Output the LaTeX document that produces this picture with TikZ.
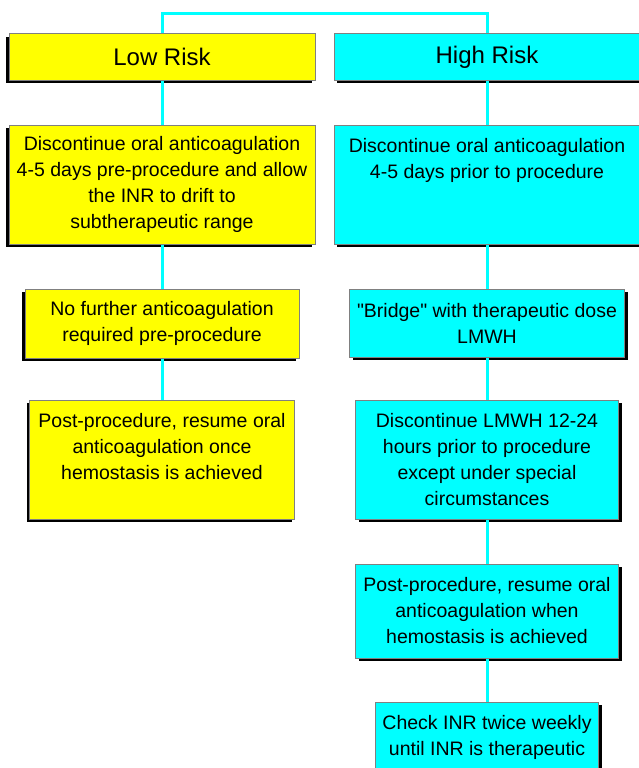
\documentclass[tikz,border=0pt]{standalone}
\usepackage{fontspec}
\setmainfont{Liberation Sans}
\usepackage{tikz}
\usetikzlibrary{positioning,shadows}
\usepackage{xcolor}
\definecolor{riskyellow}{RGB}{255,255,0}
\definecolor{riskcyan}{RGB}{0,255,255}

\begin{document}
\begin{tikzpicture}[x=1pt, y=-1pt, node distance=44pt,
  box/.style={rectangle, draw=gray, line width=1pt, align=center,
    font=\fontsize{19.5}{26}\selectfont},
  lowbox/.style={box, fill=riskyellow,
    drop shadow={shadow xshift=-3pt, shadow yshift=-3pt, fill=black, opacity=1}},
  highbox/.style={box, fill=riskcyan,
    drop shadow={shadow xshift=3pt, shadow yshift=-3pt, fill=black, opacity=1}},
  head/.style={font=\fontsize{24}{28}\selectfont, minimum width=306pt, minimum height=46pt},
  link/.style={draw=riskcyan, line width=3pt}]
  \useasboundingbox (0,0) rectangle (639,768);

  % risk headers
  \node (low) [lowbox, head] at (162,57) {Low Risk};
  \node (high) [highbox, head] at (487,57) {High Risk};

  % low risk column
  \node (lowstop) [lowbox, minimum width=306pt, minimum height=119pt, below=of low]
    {Discontinue oral anticoagulation\\4-5 days pre-procedure and allow\\the INR to drift to\\subtherapeutic range};
  \node (lownone) [lowbox, minimum width=274pt, minimum height=69pt, below=44pt of lowstop]
    {No further anticoagulation\\required pre-procedure};
  \node (lowpost) [lowbox, minimum width=265pt, minimum height=119pt, below=41pt of lownone]
    {Post-procedure, resume oral\\anticoagulation once\\hemostasis is achieved\\~};

  % high risk column
  \node (highstop) [highbox, minimum width=306pt, minimum height=119pt, below=of high]
    {Discontinue oral anticoagulation\\4-5 days prior to procedure\\~\\~};
  \node (bridge) [highbox, minimum width=275pt, minimum height=68pt, below=44pt of highstop]
    {\textquotedbl Bridge\textquotedbl{} with therapeutic dose\\LMWH};
  \node (lmwh) [highbox, minimum width=263pt, minimum height=119pt, below=42pt of bridge]
    {Discontinue LMWH 12-24\\hours prior to procedure\\except under special\\circumstances};
  \node (highpost) [highbox, minimum width=263pt, minimum height=94pt, below=44pt of lmwh]
    {Post-procedure, resume oral\\anticoagulation when\\hemostasis is achieved};
  \node (check) [highbox, minimum width=223pt, minimum height=70pt, below=43pt of highpost]
    {Check INR twice weekly\\until INR is therapeutic};

  \draw[link] (low.north) -- ++(0,-20) -| (high.north);
  \draw[link] (low.south) -- (lowstop.north);
  \draw[link] (lowstop.south) -- (lownone.north);
  \draw[link] (lownone.south) -- (lowpost.north);
  \draw[link] (high.south) -- (highstop.north);
  \draw[link] (highstop.south) -- (bridge.north);
  \draw[link] (bridge.south) -- (lmwh.north);
  \draw[link] (lmwh.south) -- (highpost.north);
  \draw[link] (highpost.south) -- (check.north);
\end{tikzpicture}
\end{document}
